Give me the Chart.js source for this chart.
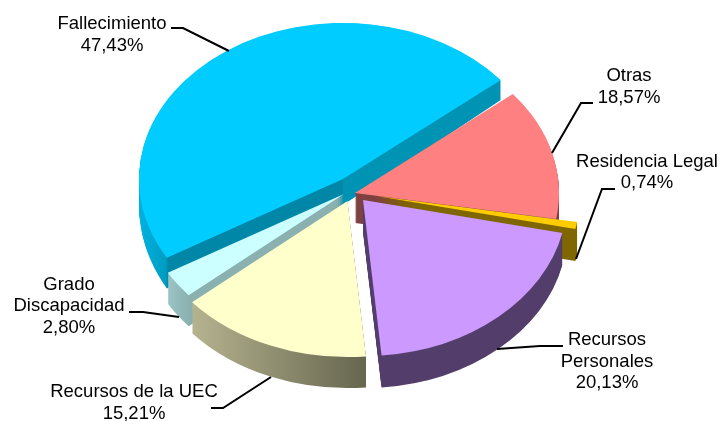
<!DOCTYPE html>
<html>
<head>
<meta charset="utf-8">
<title>Pie</title>
<script src="https://cdn.jsdelivr.net/npm/chart.js@4/dist/chart.umd.js"></script>
<style>
  html, body { margin: 0; padding: 0; background: #fff; }
  canvas { display: block; }
</style>
</head>
<body>
<canvas id="myChart" width="720" height="421"></canvas>
<script>
const categories = ['Fallecimiento', 'Otras', 'Residencia Legal', 'Recursos Personales', 'Recursos de la UEC', 'Grado Discapacidad'];
// slice sizes as drawn; the printed Otras label says 18,57 but its wedge measures 13,57
const sliceValues = [47.43, 13.57, 0.74, 20.13, 15.21, 2.80];
const percentLabels = ['47,43%', '18,57%', '0,74%', '20,13%', '15,21%', '2,80%'];

const topColors = ['#00ccff', '#ff8080', '#ffcc00', '#cc99ff', '#ffffcc', '#ccffff'];

// 3d look
const pieRadius = 204;
const tilt = 0.765;
const startAngle = -120.3;
const pieX = 343;
const pieY = 179;
// how far each slice is pulled out of the pie, px on screen
const explodeX = [0, 12, 33, 20, 4.5, 1];
const explodeY = [0, 14, 17, 21, 22, 15];
const depths = [26, 30, 32, 32, 31, 31];
const depthSlope = [0.06, 0, 0, 0, 0, 0];
// far slices first
const drawOrder = [0, 1, 2, 3, 5, 4];

// side colours: [screen x, colour] stops
const sideStops = [
  [[140, '#00b2df'], [166, '#009cc2'], [168, '#0087a8'], [342, '#0087a8'], [344, '#0093b3'], [500, '#0093b3']],
  [[355, '#7f4040'], [560, '#7f4040']],
  [[376, '#7f6600'], [577, '#7f6600']],
  [[364, '#533e6b'], [565, '#533e6b']],
  [[192, '#b5b38f'], [366, '#66664f']],
  [[168, '#9cc4c4'], [190, '#8ab0b0']]
];

// label text blocks
const labelBlocks = [
  { x: 112, lines: ['Fallecimiento', percentLabels[0]], y: [24, 46] },
  { x: 629, lines: ['Otras', percentLabels[1]], y: [76, 98] },
  { x: 647, lines: ['Residencia Legal', percentLabels[2]], y: [162, 183] },
  { x: 607, lines: ['Recursos', 'Personales', percentLabels[3]], y: [340, 362, 383] },
  { x: 134, lines: ['Recursos de la UEC', percentLabels[4]], y: [392, 414] },
  { x: 69, lines: ['Grado', 'Discapacidad', percentLabels[5]], y: [285, 306, 328] }
];
const leaderLines = [
  [[171, 28], [183, 28], [229, 51]],
  [[593, 103], [581, 103], [552, 153]],
  [[615, 189], [602, 189], [576, 259]],
  [[563, 346], [540, 346], [497, 349]],
  [[211, 408], [223, 408], [271, 377]],
  [[129, 312], [143, 312], [179, 317]]
];

const pie3d = {
  id: 'pie3d',
  beforeDatasetDraw(chart, args) {
    const ctx = chart.ctx;
    const arcs = args.meta.data;
    drawOrder.forEach((i) => {
      const arc = arcs[i];
      const tipX = pieX + explodeX[i];
      const tipY = pieY + explodeY[i];
      const topOptions = arc.options;

      // gradient is in the arc's own x so it lines up with the screen stops
      const stops = sideStops[i];
      const x0 = stops[0][0];
      const x1 = stops[stops.length - 1][0];
      const grad = ctx.createLinearGradient(arc.x + x0 - tipX, 0, arc.x + x1 - tipX, 0);
      stops.forEach((s) => grad.addColorStop((s[0] - x0) / (x1 - x0), s[1]));
      arc.options = Object.assign({}, topOptions, { backgroundColor: grad });

      for (let d = depths[i]; d >= 1; d--) {
        const t = d / depths[i];
        ctx.save();
        ctx.translate(tipX, tipY + d);
        ctx.scale(1, tilt * (1 + t * depthSlope[i]));
        ctx.translate(-arc.x, -arc.y);
        arc.draw(ctx);
        ctx.restore();
      }

      arc.options = topOptions;
      ctx.save();
      ctx.translate(tipX, tipY);
      ctx.scale(1, tilt);
      ctx.translate(-arc.x, -arc.y);
      arc.draw(ctx);
      ctx.restore();
    });
    return false;
  },
  afterDraw(chart) {
    const ctx = chart.ctx;
    ctx.save();
    ctx.strokeStyle = '#000';
    ctx.lineWidth = 2;
    leaderLines.forEach((pts) => {
      ctx.beginPath();
      pts.forEach((p, n) => (n ? ctx.lineTo(p[0], p[1]) : ctx.moveTo(p[0], p[1])));
      ctx.stroke();
    });
    ctx.fillStyle = '#000';
    ctx.font = '18.5px "Liberation Sans", Arial, sans-serif';
    ctx.textAlign = 'center';
    ctx.textBaseline = 'middle';
    labelBlocks.forEach((b) => {
      b.lines.forEach((line, n) => ctx.fillText(line, b.x, b.y[n]));
    });
    ctx.restore();
  }
};

new Chart(document.getElementById('myChart').getContext('2d'), {
  type: 'pie',
  data: {
    labels: categories,
    datasets: [{
      data: sliceValues,
      backgroundColor: topColors,
      borderWidth: 0,
      radius: pieRadius,
      clip: false
    }]
  },
  options: {
    responsive: false,
    animation: false,
    rotation: startAngle,
    events: [],
    layout: { padding: 0 },
    plugins: { legend: { display: false }, tooltip: { enabled: false }, title: { display: false } }
  },
  plugins: [pie3d]
});
</script>
</body>
</html>
